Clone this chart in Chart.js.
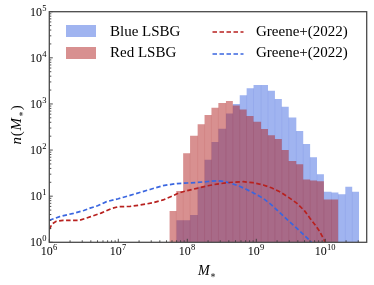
<!DOCTYPE html>
<html>
<head>
<meta charset="utf-8">
<script src="https://cdn.jsdelivr.net/npm/chart.js@4.4.0/dist/chart.umd.min.js"></script>
<style>
  html, body { margin: 0; padding: 0; background: #fff; }
  #wrap { position: relative; width: 374px; height: 285px; overflow: hidden; }
  #c { position: absolute; left: 0; top: 0; }
  .t { position: absolute; font-family: 'Liberation Serif', 'DejaVu Serif', serif; color: #000; white-space: nowrap; line-height: 1; }
  .patch { position: absolute; }
  .sub { font-size: 9px; position: relative; top: 3px; }
  .sup { font-size: 8.5px; position: relative; top: -5px; margin-left: 0.3px; }
  .tick { font-size: 12px; height: 12px; }
  .sw { position: absolute; overflow: visible; }
</style>
</head>
<body>
<div id="wrap">
  <canvas id="c" width="374" height="285"></canvas>

  <!-- legend -->
  <div class="patch" style="left:66px;top:25px;width:30px;height:11.5px;background:rgba(65,105,225,0.5)"></div>
  <div class="t" id="lg0" style="left:110px;top:24px;font-size:15px"></div>
  <div class="patch" style="left:66px;top:47px;width:30px;height:11.5px;background:rgba(178,34,34,0.5)"></div>
  <div class="t" id="lg1" style="left:110px;top:45px;font-size:15px"></div>
  <svg class="sw" style="left:212px;top:29px" width="32" height="6"><line x1="0.5" y1="3" x2="31.5" y2="3" stroke="#b8211f" stroke-width="1.6" stroke-dasharray="4.5,2.5"/></svg>
  <div class="t" id="lg2" style="left:256px;top:24px;font-size:15px"></div>
  <svg class="sw" style="left:212px;top:50.5px" width="32" height="6"><line x1="0.5" y1="3" x2="31.5" y2="3" stroke="#3a66e0" stroke-width="1.6" stroke-dasharray="4.5,2.5"/></svg>
  <div class="t" id="lg3" style="left:256px;top:45px;font-size:15px"></div>

  <!-- axis titles -->
  <div class="t" style="left:177px;top:264px;width:60px;text-align:center;font-size:14px"><i>M</i><span class="sub">∗</span></div>
  <div class="t" style="left:-24px;top:116.5px;width:80px;text-align:center;font-size:15px;letter-spacing:0.8px;transform:rotate(-90deg);transform-origin:50% 50%"><i>n</i>(<i>M</i><span class="sub">∗</span>)</div>
</div>

<script>
// ---------------- data ----------------
// histogram bin edges (log10 of stellar mass)
const binEdgesLog = [7.74, 7.84, 7.94, 8.04, 8.15, 8.25, 8.35, 8.45, 8.56, 8.66, 8.76, 8.86, 8.96, 9.07,
                     9.17, 9.27, 9.37, 9.47, 9.58, 9.68, 9.78, 9.88, 9.98, 10.09, 10.19, 10.29, 10.39, 10.49];
// counts per bin (null = empty)
const redLSBG  = [4.8, 13, 85, 205, 362, 575, 828, 1047, 1158, 930, 760, 547, 412, 286, 209, 174,
                  100, 58, 49, 23, 22, 21, 8.5, 8.5, null, null, null];
const blueLSBG = [null, 3, 3, 3.9, 16, 62, 150, 290, 620, 1000, 1550, 2180, 2560, 2560, 1940, 1280,
                  870, 510, 258, 135, 70, 30, 12.5, 12, 11, 16, 12.5];

// Greene+(2022) curves
const greeneRedLogM = [6.00, 6.04, 6.10, 6.20, 6.44, 6.60, 6.75, 6.90, 7.00, 7.17, 7.31, 7.50, 7.65, 7.78,
                       7.88, 8.00, 8.14, 8.30, 8.43, 8.60, 8.81, 8.95, 9.10, 9.22, 9.34, 9.46, 9.59, 9.70,
                       9.78, 9.86, 9.92, 10.00];
const greeneRedN    = [1.9, 2.5, 2.85, 3.0, 3.0, 3.6, 4.3, 5.4, 5.9, 6.0, 6.4, 7.2, 8.3, 10.0,
                       11.8, 13.2, 14.8, 16.8, 18.3, 19.8, 20.6, 19.6, 17.5, 15.2, 12.5, 9.6, 7.0, 4.8,
                       3.3, 2.3, 1.7, 1.0];
const greeneBlueLogM = [6.00, 6.15, 6.35, 6.50, 6.59, 6.70, 6.83, 7.00, 7.17, 7.31, 7.46, 7.65, 7.85, 8.00,
                        8.14, 8.30, 8.43, 8.52, 8.62, 8.74, 8.86, 8.98, 9.10, 9.22, 9.34, 9.46, 9.59, 9.70, 9.80];
const greeneBlueN    = [3.0, 3.6, 4.25, 4.9, 5.5, 6.2, 7.6, 8.8, 10.4, 12.0, 14.0, 17.0, 18.8, 19.3,
                        19.8, 20.8, 21.6, 21.0, 19.3, 16.8, 14.0, 11.3, 9.0, 6.5, 4.4, 3.0, 2.0, 1.4, 1.0];

// ticks
const xMajorTicks  = [1e6, 1e7, 1e8, 1e9, 1e10];
const xTickLabels  = ['10^6', '10^7', '10^8', '10^9', '10^10'];
const yMajorTicks  = [1, 10, 100, 1e3, 1e4, 1e5];
const yTickLabels  = ['10^0', '10^1', '10^2', '10^3', '10^4', '10^5'];

const legendLabels = ['Blue LSBG', 'Red LSBG', 'Greene+(2022)', 'Greene+(2022)'];
// ---------------------------------------

['lg0','lg1','lg2','lg3'].forEach((id, i) => { document.getElementById(id).textContent = legendLabels[i]; });

function stepPoints(counts) {
  const pts = []; let last = -1;
  for (let k = 0; k < counts.length; k++) {
    if (counts[k] == null) continue;
    pts.push({ x: Math.pow(10, binEdgesLog[k]), y: counts[k] });
    last = k;
  }
  pts.push({ x: Math.pow(10, binEdgesLog[last + 1]), y: counts[last] });
  return pts;
}
function linePoints(logM, n) { return logM.map((m, i) => ({ x: Math.pow(10, m), y: n[i] })); }

// faint vertical lines at bin boundaries inside each histogram
const binLines = {
  id: 'binLines',
  afterDatasetDraw(chart, args) {
    const ds = chart.data.datasets[args.index];
    if (!ds._counts) return;
    const { ctx, chartArea: a, scales: { x, y } } = chart;
    const c = ds._counts;
    ctx.save();
    ctx.beginPath(); ctx.rect(a.left, a.top, a.right - a.left, a.bottom - a.top); ctx.clip();
    ctx.strokeStyle = ds._edgeColor; ctx.lineWidth = 1;
    ctx.beginPath();
    for (let k = 1; k < c.length; k++) {
      if (c[k] == null || c[k - 1] == null) continue;
      const px = x.getPixelForValue(Math.pow(10, binEdgesLog[k]));
      const top = y.getPixelForValue(Math.min(c[k], c[k - 1]));
      ctx.moveTo(px, a.bottom); ctx.lineTo(px, top);
    }
    ctx.stroke();
    ctx.restore();
  }
};

// frame + inward ticks (matplotlib style)
const frameTicks = {
  id: 'frameTicks',
  afterDraw(chart) {
    const { ctx, chartArea: a, scales: { x, y } } = chart;
    ctx.save();
    ctx.strokeStyle = '#3a3a3a';
    const isInt = v => { const e = Math.floor(Math.log10(v) + 1e-9); const s = v / Math.pow(10, e); const r = Math.round(s); return Math.abs(s - r) < 1e-6 ? r : 0; };
    ctx.lineWidth = 0.9;
    ctx.beginPath();
    x.ticks.forEach(t => {
      const r = isInt(t.value); if (!r) return;
      const px = x.getPixelForValue(t.value);
      if (px < a.left - 0.5 || px > a.right + 0.5) return;
      const len = r === 1 ? 3.5 : 2;
      ctx.moveTo(px, a.bottom); ctx.lineTo(px, a.bottom - len);
    });
    y.ticks.forEach(t => {
      const r = isInt(t.value); if (!r) return;
      const py = y.getPixelForValue(t.value);
      if (py < a.top - 0.5 || py > a.bottom + 0.5) return;
      const len = r === 1 ? 3.5 : 2;
      ctx.moveTo(a.left, py); ctx.lineTo(a.left + len, py);
    });
    ctx.stroke();
    ctx.strokeStyle = '#4a4a4a';
    ctx.lineWidth = 1.3;
    ctx.strokeRect(a.left, a.top, a.right - a.left, a.bottom - a.top);
    ctx.restore();
  }
};

const chart = new Chart(document.getElementById('c'), {
  type: 'line',
  data: {
    datasets: [
      { label: legendLabels[2], data: linePoints(greeneRedLogM, greeneRedN), borderColor: '#b8211f',
        borderWidth: 1.7, borderDash: [4.5, 2.5], pointRadius: 0, fill: false, tension: 0, order: 0 },
      { label: legendLabels[3], data: linePoints(greeneBlueLogM, greeneBlueN), borderColor: '#3a66e0',
        borderWidth: 1.7, borderDash: [4.5, 2.5], pointRadius: 0, fill: false, tension: 0, order: 0 },
      { label: legendLabels[1], data: stepPoints(redLSBG), stepped: 'before', fill: 'start',
        backgroundColor: 'rgba(178,34,34,0.5)', borderWidth: 0, borderColor: 'rgba(0,0,0,0)', pointRadius: 0, order: 1,
        _counts: redLSBG, _edgeColor: 'rgba(150,30,30,0.09)' },
      { label: legendLabels[0], data: stepPoints(blueLSBG), stepped: 'before', fill: 'start',
        backgroundColor: 'rgba(65,105,225,0.5)', borderWidth: 0, borderColor: 'rgba(0,0,0,0)', pointRadius: 0, order: 2,
        _counts: blueLSBG, _edgeColor: 'rgba(50,80,200,0.09)' }
    ]
  },
  options: {
    responsive: false,
    animation: false,
    devicePixelRatio: 1,
    layout: { padding: { left: 0, right: 7.3, top: 11.7, bottom: 0 } },
    plugins: { legend: { display: false }, tooltip: { enabled: false } },
    scales: {
      x: {
        type: 'logarithmic', min: 1e6, max: Math.pow(10, 10.6),
        grid: { display: false, drawTicks: false },
        border: { display: false },
        ticks: { display: false, autoSkip: false },
        afterFit: s => { s.height = 42.7; }
      },
      y: {
        type: 'logarithmic', min: 1, max: 1e5,
        grid: { display: false, drawTicks: false },
        border: { display: false },
        ticks: { display: false, autoSkip: false },
        afterFit: s => { s.width = 49.3; }
      }
    }
  },
  plugins: [binLines, frameTicks]
});

// tick labels as real text, positioned through the chart's own scales
const wrap = document.getElementById('wrap');
function makeTickLabel(str) {
  const [base, exp] = str.split('^');
  const d = document.createElement('div');
  d.className = 't tick';
  d.appendChild(document.createTextNode(base));
  const s = document.createElement('span'); s.className = 'sup'; s.textContent = exp;
  d.appendChild(s);
  wrap.appendChild(d);
  return d;
}
xMajorTicks.forEach((v, i) => {
  const d = makeTickLabel(xTickLabels[i]);
  const px = chart.scales.x.getPixelForValue(v);
  d.style.left = (px - d.offsetWidth / 2) + 'px';
  d.style.top = (chart.chartArea.bottom + 2.3) + 'px';
});
yMajorTicks.forEach((v, i) => {
  const d = makeTickLabel(yTickLabels[i]);
  const py = chart.scales.y.getPixelForValue(v);
  d.style.left = (chart.chartArea.left - 2.3 - d.offsetWidth) + 'px';
  d.style.top = (py - 6) + 'px';
});
</script>
</body>
</html>
